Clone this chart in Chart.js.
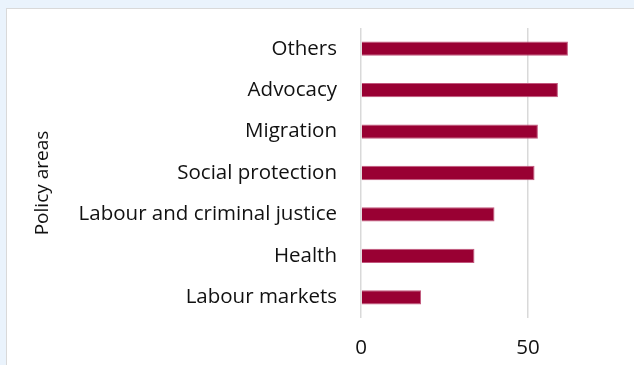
<!DOCTYPE html>
<html>
<head>
<meta charset="utf-8">
<script src="https://cdn.jsdelivr.net/npm/chart.js@4/dist/chart.umd.min.js"></script>
<style>
  html, body { margin: 0; padding: 0; width: 634px; height: 365px; overflow: hidden; background: #eaf3fc; }
  #panel { position: absolute; left: 6px; top: 8px; width: 700px; height: 400px; background: #ffffff; border: 1.5px solid #d9d9d9; box-sizing: border-box; }
  #wrap { position: absolute; left: 0; top: 0; width: 634px; height: 365px; }
</style>
</head>
<body>
<div id="panel"></div>
<div id="wrap"><canvas id="c" width="634" height="365"></canvas></div>
<script>
const categories = ["Others", "Advocacy", "Migration", "Social protection", "Labour and criminal justice", "Health", "Labour markets"];
const values = [62, 59, 53, 52, 40, 34, 18];
const axisTitle = "Policy areas";
const xMin = 0, xMax = 80, xStep = 50;

const FONT = "'Open Sans', sans-serif";
const FS = 20.5;

// Axis title drawn slightly below the plot's vertical centre, as in the reference
const yTitlePlugin = {
  id: 'yTitle',
  afterDraw(chart) {
    const ctx = chart.ctx;
    const area = chart.chartArea;
    ctx.save();
    ctx.translate(43, (area.top + area.bottom) / 2 + 10);
    ctx.rotate(-Math.PI / 2);
    ctx.font = "19px 'Open Sans', sans-serif";
    ctx.fillStyle = '#111';
    ctx.textAlign = 'center';
    ctx.textBaseline = 'middle';
    ctx.fillText(axisTitle, 0, 0);
    ctx.restore();
  }
};

new Chart(document.getElementById('c'), {
  type: 'bar',
  data: {
    labels: categories,
    datasets: [{
      data: values,
      backgroundColor: '#990033',
      borderColor: '#c2577d',
      borderWidth: 1,
      borderSkipped: 'start',
      categoryPercentage: 1,
      barPercentage: 0.345
    }]
  },
  options: {
    indexAxis: 'y',
    responsive: false,
    animation: false,
    devicePixelRatio: 1,
    layout: { padding: { left: 23, top: 28, right: 6, bottom: 0 } },
    plugins: { legend: { display: false }, tooltip: { enabled: false } },
    scales: {
      x: {
        min: xMin, max: xMax,
        border: { display: false },
        grid: { color: '#d9d9d9', lineWidth: 1.5, drawTicks: false },
        ticks: { stepSize: xStep, includeBounds: false, padding: 18, color: '#111', font: { family: FONT, size: FS } },
        afterFit: (s) => { s.height = 47; s.paddingLeft = 0; s.paddingRight = 0; }
      },
      y: {
        border: { display: false },
        grid: { display: false, drawTicks: false },
        ticks: { padding: 24, color: '#111', font: { family: FONT, size: FS } },
        title: { display: false, text: axisTitle },
        afterFit: (s) => { s.width = 338; s.paddingTop = 0; s.paddingBottom = 0; }
      }
    }
  },
  plugins: [yTitlePlugin]
});
</script>
</body>
</html>
